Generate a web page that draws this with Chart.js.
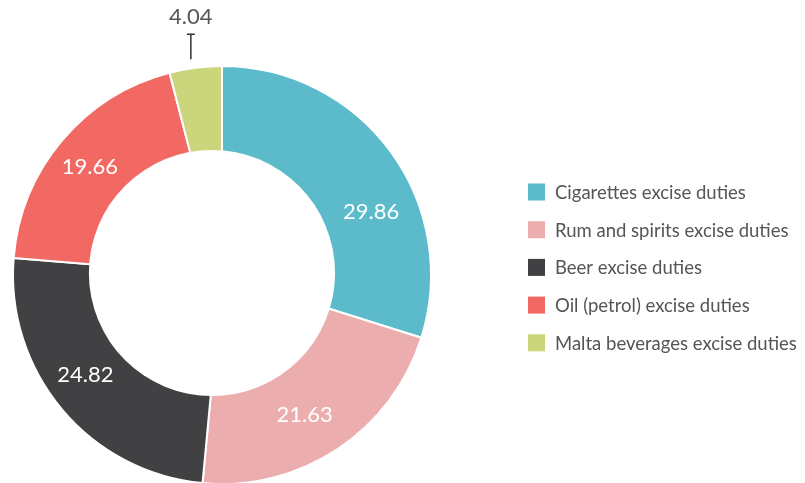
<!DOCTYPE html>
<html>
<head>
<meta charset="utf-8">
<script src="https://cdn.jsdelivr.net/npm/chart.js@4/dist/chart.umd.min.js"></script>
<style>
  html, body { margin: 0; padding: 0; background: #ffffff; overflow: hidden; }
  #wrap { position: relative; width: 805px; height: 490px; }
</style>
</head>
<body>
<div id="wrap"><canvas id="chart" width="805" height="490"></canvas></div>
<script>
// Excise duty shares
const categories = [
  'Cigarettes excise duties',
  'Rum and spirits excise duties',
  'Beer excise duties',
  'Oil (petrol) excise duties',
  'Malta beverages excise duties'
];
const shares = [29.86, 21.63, 24.82, 19.66, 4.04];
const sliceColors = ['#5bbbcb', '#ecadaf', '#414143', '#f26862', '#cbd57c'];

// Styling of the ring and its labels
const FONT = 'Lato, "Open Sans", sans-serif';
const HOLE = { dx: -0.048, dy: -0.0096, r: 0.589 };   // relative to outer radius
const labelAngleNudge = [13.4, 3.0, 3.7, -0.9, -1.3]; // degrees, per slice
const outsideLabels = [false, false, false, false, true];

const ringPlugin = {
  id: 'ringDecor',
  afterDatasetsDraw(chart) {
    const ctx = chart.ctx;
    const arcs = chart.getDatasetMeta(0).data;
    if (!arcs.length) return;
    const cx = arcs[0].x, cy = arcs[0].y, ro = arcs[0].outerRadius;
    const ox = HOLE.dx * ro, oy = HOLE.dy * ro, ri = HOLE.r * ro;

    // white hole of the doughnut
    ctx.save();
    ctx.fillStyle = '#ffffff';
    ctx.beginPath();
    ctx.arc(cx + ox, cy + oy, ri, 0, Math.PI * 2);
    ctx.fill();
    ctx.restore();

    // value labels
    const values = chart.data.datasets[0].data;
    ctx.save();
    ctx.textAlign = 'center';
    ctx.textBaseline = 'middle';
    arcs.forEach((arc, i) => {
      const a = (arc.startAngle + arc.endAngle) / 2 + labelAngleNudge[i] * Math.PI / 180;
      const ux = Math.cos(a), uy = Math.sin(a);
      const text = values[i].toFixed(2);
      if (outsideLabels[i]) {
        const ax = cx + ro * ux, ay = cy + ro * uy;
        const yBottom = ay - 9, yTop = yBottom - 25;
        ctx.strokeStyle = '#333333';
        ctx.lineWidth = 1.5;
        ctx.beginPath();
        ctx.moveTo(ax, yBottom);
        ctx.lineTo(ax, yTop);
        ctx.moveTo(ax - 4, yTop);
        ctx.lineTo(ax + 4, yTop);
        ctx.stroke();
        ctx.font = '22px ' + FONT;
        ctx.fillStyle = '#555555';
        ctx.fillText(text, ax, yTop - 17);
      } else {
        const uo = ux * ox + uy * oy;
        const dIn = uo + Math.sqrt(ri * ri - (ox * ox + oy * oy) + uo * uo);
        const d = (dIn + ro) / 2;
        ctx.font = '22px ' + FONT;
        ctx.fillStyle = '#ffffff';
        ctx.fillText(text, cx + d * ux, cy + d * uy);
      }
    });
    ctx.restore();
  },
  afterDraw(chart) {
    // legend on the right
    const ctx = chart.ctx;
    const ds = chart.data.datasets[0];
    const x0 = 528, y0 = 192, step = 37.7, box = 17;
    ctx.save();
    ctx.font = '18.5px ' + FONT;
    ctx.textAlign = 'left';
    ctx.textBaseline = 'middle';
    chart.data.labels.forEach((lab, i) => {
      const y = y0 + i * step;
      ctx.fillStyle = ds.backgroundColor[i];
      ctx.fillRect(x0, y - box / 2, box, box);
      ctx.fillStyle = '#555555';
      ctx.fillText(lab, x0 + 27, y + 1);
    });
    ctx.restore();
  }
};

new Chart(document.getElementById('chart'), {
  type: 'doughnut',
  data: {
    labels: categories,
    datasets: [{
      data: shares,
      backgroundColor: sliceColors,
      borderColor: '#ffffff',
      borderWidth: 2,
      hoverOffset: 0
    }]
  },
  options: {
    responsive: false,
    animation: false,
    cutout: 0,
    layout: { padding: { left: 12, right: 373, top: 65, bottom: 5 } },
    plugins: {
      legend: { display: false },
      tooltip: { enabled: false }
    }
  },
  plugins: [ringPlugin]
});
</script>
</body>
</html>
